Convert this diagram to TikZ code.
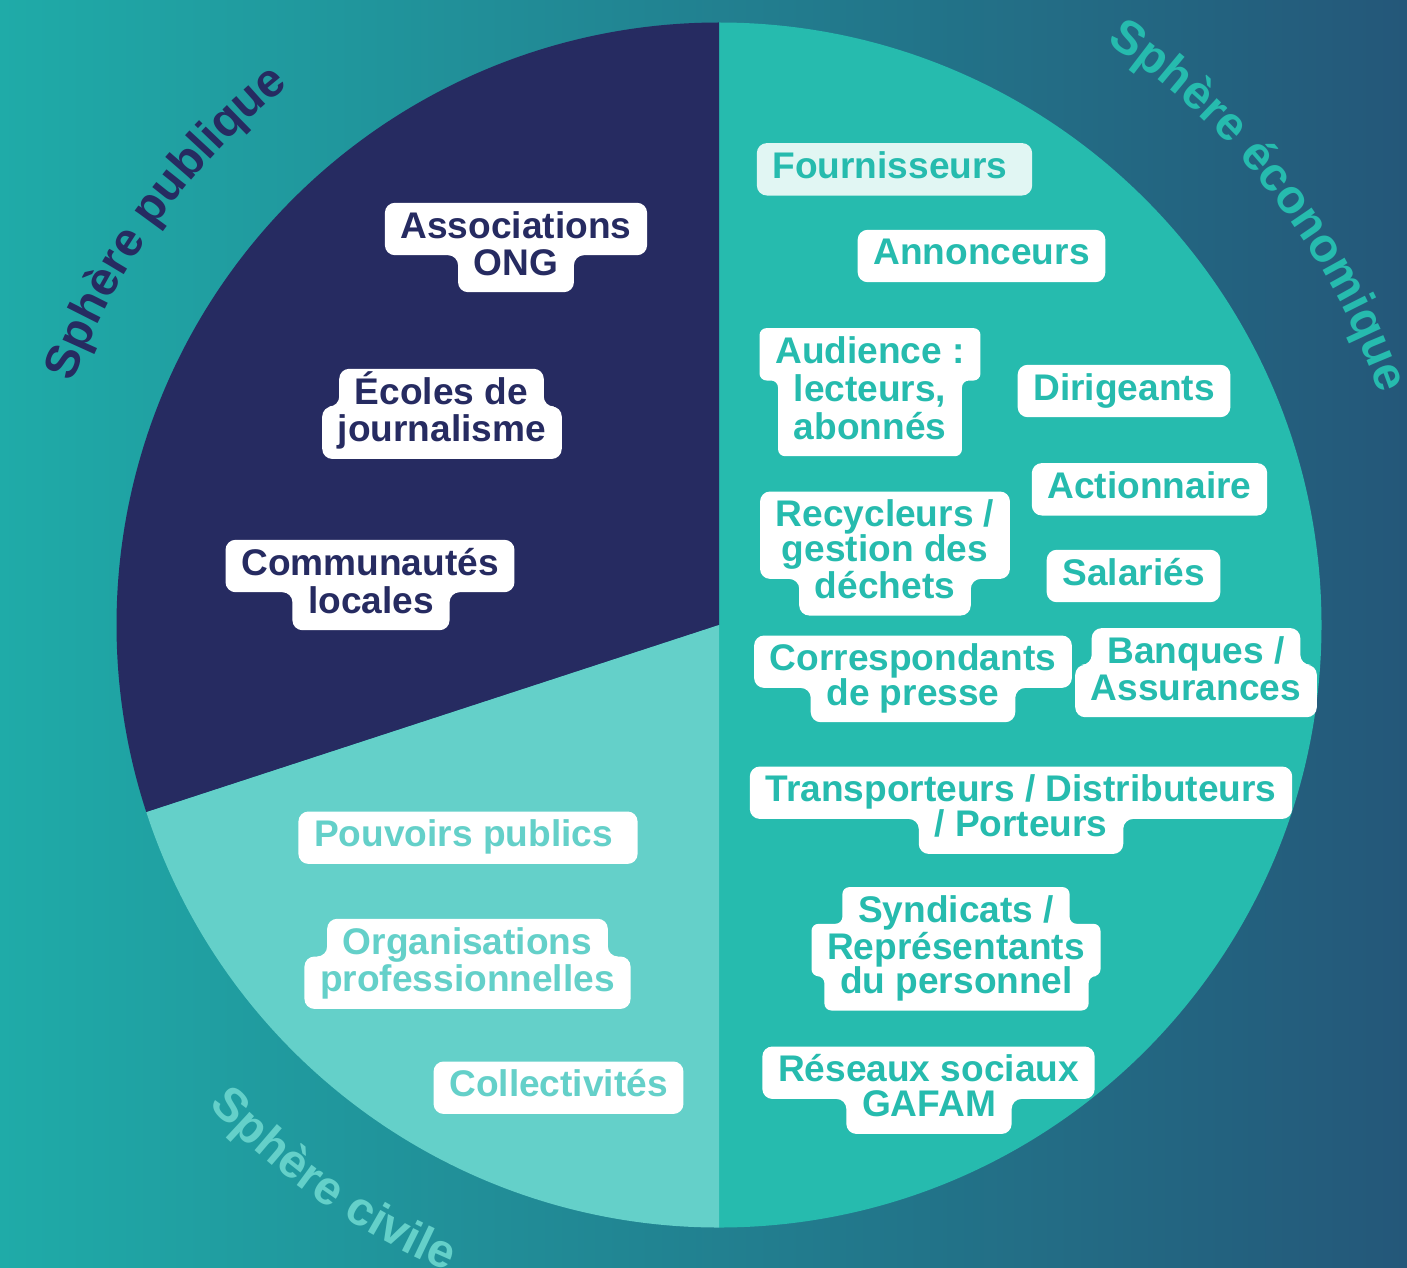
\documentclass[tikz,border=0pt]{standalone}
\usepackage{fontspec}
\setmainfont{Liberation Sans}
\usepackage{tikz}
\usetikzlibrary{backgrounds, decorations.text}
\definecolor{PubliqueNavy}{HTML}{262B61}
\definecolor{EcoTeal}{HTML}{26BBAE}
\definecolor{CivileTeal}{HTML}{64D0C9}
\definecolor{BgLeft}{HTML}{1FABA8}
\definecolor{BgRight}{HTML}{245779}
\definecolor{FournFill}{HTML}{E1F6F3}
\newcommand{\tagfont}{\fontsize{10.55pt}{10.55pt}\selectfont\bfseries}
\newcommand{\spherefont}{\fontsize{13.5pt}{13.5pt}\selectfont\bfseries}
\pgfdeclarelayer{disc}
\pgfsetlayers{disc,background,main}

\tikzset{
  tag/.style={anchor=base, inner xsep=0.15cm, inner ysep=0.08cm,
    text height=0.265cm, text depth=0.085cm, font=\tagfont},
  navytag/.style={tag, text=PubliqueNavy},
  civiltag/.style={tag, text=CivileTeal},
  ecotag/.style={tag, text=EcoTeal},
  tagbox/.style={fill=white, rounded corners=0.1cm},
  spheretext/.style={decorate, decoration={text along path, text align=center, text={#1}}}
}

\begin{document}
\begin{tikzpicture}
    \useasboundingbox (-7.19,-6.42) rectangle (6.88,6.25);

    % Backdrop and the three sectors
    \begin{pgfonlayer}{disc}
      \shade[left color=BgLeft, right color=BgRight] (-7.19,-6.42) rectangle (6.88,6.25);
      \fill[EcoTeal] (0,0) -- (90:6.025) arc[start angle=90, end angle=-90, radius=6.025] -- cycle;
      \fill[PubliqueNavy] (0,0) -- (90:6.025) arc[start angle=90, end angle=198.1, radius=6.025] -- cycle;
      \fill[CivileTeal] (0,0) -- (198.1:6.025) arc[start angle=198.1, end angle=270, radius=6.025] -- cycle;
    \end{pgfonlayer}

    % Sphere names around the disc
    \path[spheretext={|\spherefont\color{PubliqueNavy}|Sphère publique}]
      (170:6.9) arc[start angle=170, end angle=118, radius=6.9];
    \path[spheretext={|\spherefont\color{EcoTeal}|Sphère économique}]
      (63.8:7.0) arc[start angle=63.8, end angle=11.8, radius=7.0];
    \path[spheretext={|\spherefont\color{CivileTeal}|Sphère civile}]
      (209.25:7.01) arc[start angle=209.25, end angle=261.25, radius=7.01];

    % Public sphere
    \node[navytag] (assoc1) at (-2.03,3.87) {Associations};
    \node[navytag] (assoc2) at (-2.03,3.50) {ONG};
    \node[navytag] (ecoles1) at (-2.775,2.21) {Écoles de};
    \node[navytag] (ecoles2) at (-2.77,1.833) {journalisme};
    \node[navytag] (commu1) at (-3.49,0.50) {Communautés};
    \node[navytag] (commu2) at (-3.48,0.12) {locales};

    % Civil sphere
    \node[civiltag] (pouvoirs) at (-2.555,-2.217) {Pouvoirs publics};
    \node[civiltag] (orga1) at (-2.515,-3.29) {Organisations};
    \node[civiltag] (orga2) at (-2.515,-3.667) {professionnelles};
    \node[civiltag] (collect) at (-1.605,-4.717) {Collectivités};

    % Economic sphere
    \node[ecotag] (fourn) at (1.71,4.467) {Fournisseurs};
    \node[ecotag] (annonc) at (2.625,3.60) {Annonceurs};
    \node[ecotag] (aud1) at (1.51,2.617) {Audience~:};
    \node[ecotag] (aud2) at (1.51,2.233) {lecteurs,};
    \node[ecotag] (aud3) at (1.51,1.86) {abonnés};
    \node[ecotag] (dirig) at (4.05,2.25) {Dirigeants};
    \node[ecotag] (action) at (4.305,1.267) {Actionnaire};
    \node[ecotag] (recyc1) at (1.66,0.983) {Recycleurs /};
    \node[ecotag] (recyc2) at (1.66,0.633) {gestion des};
    \node[ecotag] (recyc3) at (1.66,0.267) {déchets};
    \node[ecotag] (salar) at (4.145,0.40) {Salariés};
    \node[ecotag] (corresp1) at (1.94,-0.457) {Correspondants};
    \node[ecotag] (corresp2) at (1.94,-0.80) {de presse};
    \node[ecotag] (banq1) at (4.77,-0.383) {Banques /};
    \node[ecotag] (banq2) at (4.77,-0.75) {Assurances};
    \node[ecotag] (transp1) at (3.02,-1.767) {Transporteurs / Distributeurs};
    \node[ecotag] (transp2) at (3.02,-2.117) {/ Porteurs};
    \node[ecotag] (synd1) at (2.37,-2.973) {Syndicats /};
    \node[ecotag] (synd2) at (2.37,-3.34) {Représentants};
    \node[ecotag] (synd3) at (2.375,-3.683) {du personnel};
    \node[ecotag] (reseau1) at (2.095,-4.567) {Réseaux sociaux};
    \node[ecotag] (reseau2) at (2.10,-4.917) {GAFAM};

    % White tags behind the words
    \begin{scope}[on background layer]
      \foreach \n in {collect, annonc, dirig, action, salar}
        \fill[tagbox] (\n.south west) rectangle (\n.north east);
      \fill[tagbox] (pouvoirs.south west) rectangle ([xshift=0.09cm]pouvoirs.north east);
      \fill[tagbox, fill=FournFill] (fourn.south west) rectangle ([xshift=0.09cm]fourn.north east);

      % upper line wider
      \foreach \a/\b in {assoc1/assoc2, commu1/commu2, corresp1/corresp2, transp1/transp2, reseau1/reseau2}
        \fill[tagbox] (\a.north west) -- (\a.north east) -- (\a.south east) -- (\b.east |- \a.south)
          -- (\b.south east) -- (\b.south west) -- (\b.west |- \a.south) -- (\a.south west) -- cycle;

      % lower line wider
      \foreach \a/\b in {ecoles1/ecoles2, orga1/orga2, banq1/banq2}
        \fill[tagbox] (\a.north west) -- (\a.north east) -- (\a.east |- \b.north) -- (\b.north east)
          -- (\b.south east) -- (\b.south west) -- (\b.north west) -- (\a.west |- \b.north) -- cycle;

      \fill[tagbox, rounded corners=0.07cm] (aud1.north west) -- (aud1.north east) -- (aud1.south east)
        -- (aud2.east |- aud1.south) -- (aud2.east |- aud3.south) -- (aud2.west |- aud3.south)
        -- (aud2.west |- aud1.south) -- (aud1.south west) -- cycle;
      \fill[tagbox] (recyc1.north west) -- (recyc1.north east) -- (recyc1.east |- recyc2.south)
        -- (recyc3.east |- recyc2.south) -- (recyc3.south east) -- (recyc3.south west)
        -- (recyc3.west |- recyc2.south) -- (recyc1.west |- recyc2.south) -- cycle;
      \fill[tagbox, rounded corners=0.07cm] (synd1.north west) -- (synd1.north east) -- (synd1.east |- synd2.north)
        -- (synd2.north east) -- (synd2.south east) -- (synd3.east |- synd2.south) -- (synd3.south east)
        -- (synd3.south west) -- (synd3.west |- synd2.south) -- (synd2.south west) -- (synd2.north west)
        -- (synd1.west |- synd2.north) -- cycle;
    \end{scope}
\end{tikzpicture}
\end{document}
